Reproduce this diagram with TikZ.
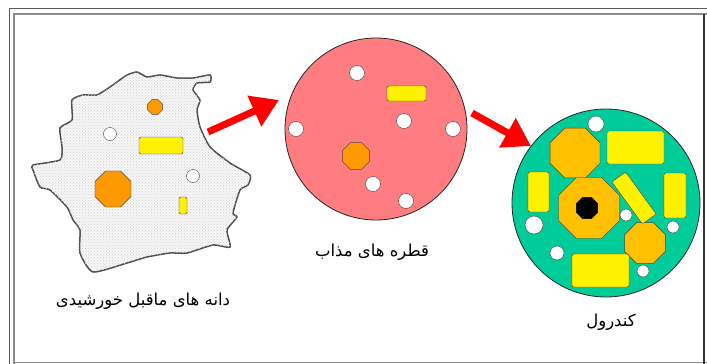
\documentclass[tikz,border=0pt]{standalone}
\usepackage{fontspec}
\newfontfamily\farsifont[Script=Arabic]{DejaVu Sans}
\TeXXeTstate=1
\usepackage{tikz}
\usetikzlibrary{shapes.geometric}
\usetikzlibrary{arrows.meta}
\usetikzlibrary{patterns}
\definecolor{grainorange}{RGB}{255,153,0}
\definecolor{chondorange}{RGB}{255,192,0}
\definecolor{meltpink}{RGB}{255,125,128}
\definecolor{chondgreen}{RGB}{0,204,153}
\tikzset{octa/.style={regular polygon, regular polygon sides=8, draw=black!75, fill=grainorange, inner sep=0pt, minimum size=#1}}
\tikzset{wdot/.style={circle, draw=black!75, fill=white, inner sep=0pt, minimum size=#1}}
\tikzset{bar/.style={rectangle, rounded corners=1.5pt, draw=black!75, fill=yellow, inner sep=0pt}}
\tikzset{disc/.style={circle, draw=black!85, thick, inner sep=0pt, minimum size=#1}}
\tikzset{lbl/.style={font=\farsifont\fontsize{16.5}{18}\selectfont}}
\tikzset{bigarrow/.style={red, line width=7pt, -{Triangle[length=27pt,width=32pt]}}}

\begin{document}
\begin{tikzpicture}[x=1pt,y=-1pt]
    \useasboundingbox (0,0) rectangle (707,364);
    % page frame
    \draw[black!65, line width=1.2pt] (9.5,364) -- (9.5,8.5) -- (707,8.5);
    \draw[black!45, line width=1.5pt] (14,364) -- (14,14) -- (707,14);
    \draw[black!45, line width=1.5pt] (14,362.5) -- (707,362.5);
    \draw[black!80, line width=1.5pt] (704,14) -- (704,364);

    % presolar grains
    \draw[black!70, line width=1.5pt, fill=black!3, postaction={pattern=crosshatch dots, pattern color=black!18}]
        plot[smooth cycle, tension=0.35] coordinates {
        (33,165) (60,160) (62,147) (60,128) (72,120) (72,100) (83,95) (97,95)
        (110,87) (117,82) (127,75) (137,72) (147,77) (160,75) (177,78) (193,78)
        (210,75) (210,82) (197,83) (193,90) (200,100) (197,110) (200,127) (210,147)
        (230,163) (250,175) (248,185) (240,190) (233,213) (237,217) (227,230) (230,247)
        (213,245) (187,253) (170,253) (147,257) (127,263) (93,272) (80,253) (80,230)
        (73,220) (67,207) (50,190) (40,187) (33,170)};
    \node [octa=16](g1) at (155,107){};
    \node [octa=39](g2) at (113,189){};
    \node [wdot=13](g3) at (110,134){};
    \node [wdot=13](g4) at (193,176){};
    \node [bar, minimum width=44pt, minimum height=17pt](g5) at (161,145.5){};
    \node [bar, minimum width=8pt, minimum height=17pt](g6) at (183,205.5){};
    \node [lbl](grainlbl) at (143,301){\beginR دانه های ماقبل خورشیدی\endR};

    % melt droplets
    \node [disc=182, fill=meltpink](melt) at (376,129){};
    \foreach \x/\y [count=\i] in {357/73, 404/121, 296/129, 453/129, 373/184, 406/201}
        \node [wdot=15](m\i) at (\x,\y){};
    \node [bar, minimum width=39pt, minimum height=15pt](m7) at (406.5,93.5){};
    \node [octa=29](m8) at (356,156){};
    \node [lbl](meltlbl) at (372,252){\beginR قطره های مذاب\endR};

    % chondrule
    \node [disc=188, fill=chondgreen](chond) at (606,203){};
    \node [octa=54, fill=chondorange](c1) at (575,153){};
    \node [octa=66, fill=chondorange](c2) at (589,208){};
    \node [octa=23, fill=black, draw=black](c3) at (587,208){};
    \node [octa=44, fill=chondorange](c4) at (645,243){};
    \node [bar, minimum width=57pt, minimum height=33pt](c5) at (635.5,147.5){};
    \node [bar, minimum width=21pt, minimum height=40pt](c6) at (538.5,192){};
    \node [bar, minimum width=22pt, minimum height=45pt](c7) at (675,195.5){};
    \node [bar, minimum width=52pt, minimum height=17pt, rotate=-54](c8) at (634,198){};
    \node [bar, minimum width=57pt, minimum height=33pt](c9) at (600.5,270.5){};
    \foreach \x/\y/\d [count=\i from 10] in {596/124/16, 626/215/12, 534/225/18, 673/227/12, 557/253/14, 643/271/12}
        \node [wdot=\d](c\i) at (\x,\y){};
    \node [lbl](chondlbl) at (611,322){\beginR کندرول\endR};

    \coordinate (a1s) at (208,132);
    \coordinate (a1e) at (279,100);
    \coordinate (a2s) at (472,113);
    \coordinate (a2e) at (531,146);
    \draw[bigarrow] (a1s) -- (a1e);
    \draw[bigarrow] (a2s) -- (a2e);
\end{tikzpicture}
\end{document}
